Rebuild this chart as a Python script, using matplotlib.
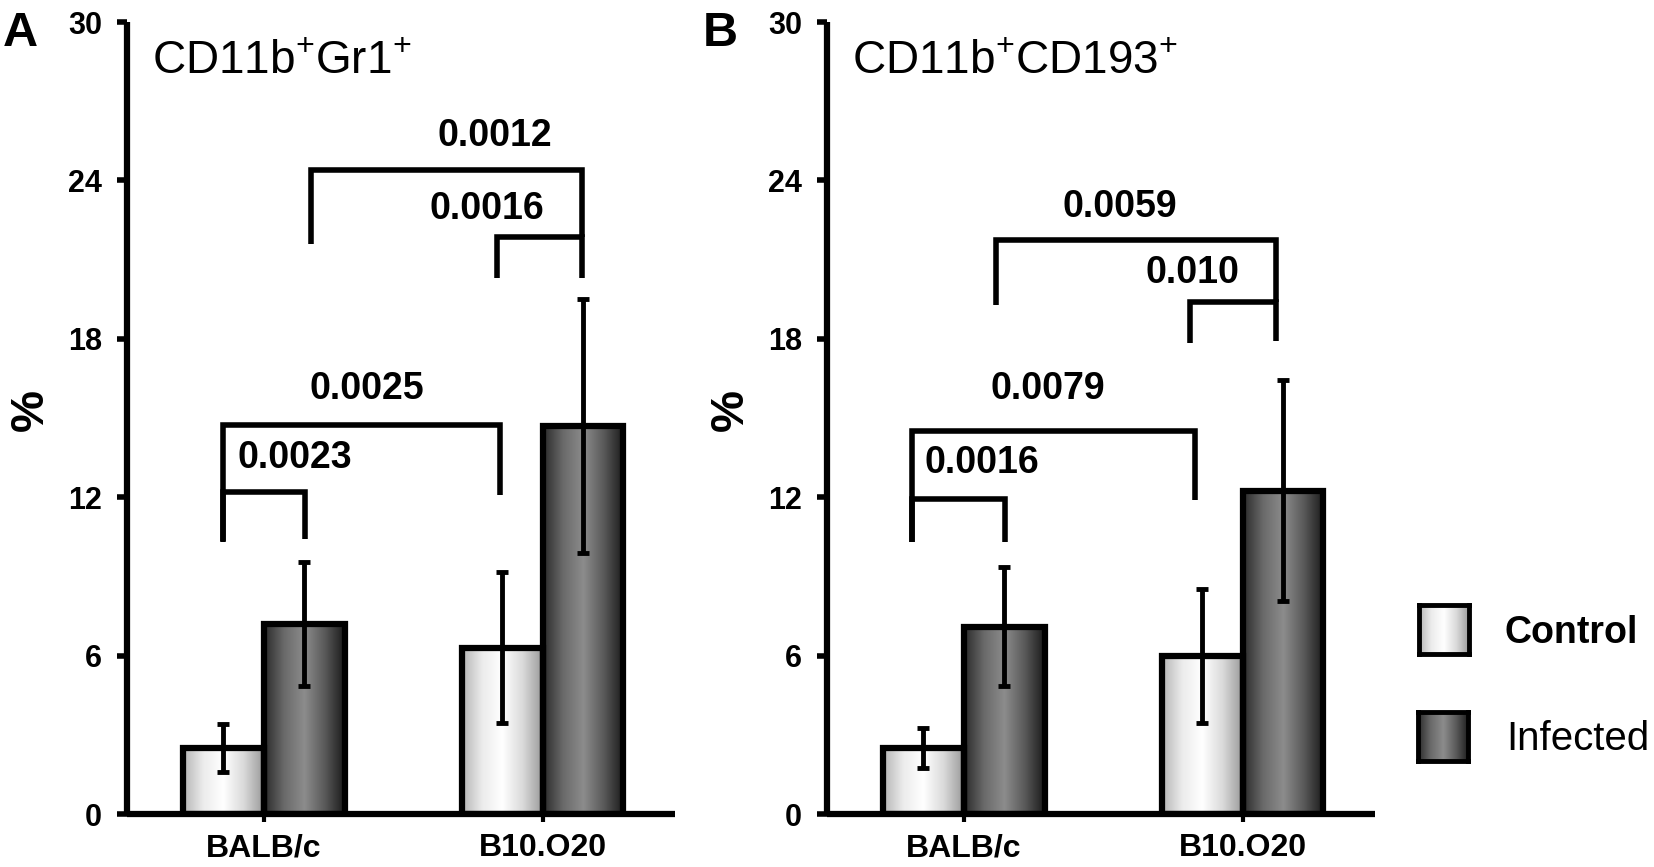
import numpy as np
import matplotlib.pyplot as plt
from matplotlib.colors import LinearSegmentedColormap

plt.rcParams['font.family'] = ['Liberation Sans', 'DejaVu Sans']
plt.rcParams['mathtext.fontset'] = 'custom'
plt.rcParams['mathtext.rm'] = 'Liberation Sans'
plt.rcParams['mathtext.it'] = 'Liberation Sans:italic'
plt.rcParams['mathtext.bf'] = 'Liberation Sans:bold'

# data
strains = ['BALB/c', 'B10.O20']
groups = ['Control', 'Infected']
titles = [r'CD11b$^{+}$Gr1$^{+}$', r'CD11b$^{+}$CD193$^{+}$']
letters = ['A', 'B']

a_control = [2.5, 6.3]
a_control_err = [0.9, 2.85]
a_infected = [7.2, 14.7]
a_infected_err = [2.35, 4.8]

b_control = [2.5, 6.0]
b_control_err = [0.76, 2.54]
b_infected = [7.1, 12.25]
b_infected_err = [2.26, 4.2]

a_pvals = ['0.0023', '0.0025', '0.0016', '0.0012']
b_pvals = ['0.0016', '0.0079', '0.010', '0.0059']

# bracket geometry: left x, right x, top y, left foot, right foot
a_brackets = [(-0.147, 0.147, 12.2, 10.35, 10.4),
              (-0.147, 0.846, 14.73, 10.3, 12.08),
              (0.835, 1.143, 21.86, 20.3, 20.3),
              (0.168, 1.143, 24.4, 21.6, 21.86)]
a_ptext = [(0.11, 13.5), (0.37, 16.1), (0.80, 22.9), (0.83, 25.7)]
b_brackets = [(-0.185, 0.147, 11.94, 10.29, 10.32),
              (-0.185, 0.83, 14.49, 10.29, 11.88),
              (0.81, 1.12, 19.4, 17.83, 17.9),
              (0.115, 1.12, 21.74, 19.28, 19.4)]
b_ptext = [(0.065, 13.28), (0.30, 16.1), (0.82, 20.5), (0.56, 23.0)]

cmap_ctrl = LinearSegmentedColormap.from_list(
    'ctrl', ['#b4b4b4', '#ececec', '#ffffff', '#dadada', '#9a9a9a'])
cmap_inf = LinearSegmentedColormap.from_list(
    'inf', ['#2a2a2a', '#6a6a6a', '#8c8c8c', '#5a5a5a', '#1a1a1a'])

W, H = 1654, 867
fig = plt.figure(figsize=(W / 100, H / 100), dpi=100)

grad = np.linspace(0, 1, 256).reshape(1, -1)


def gradient_bars(ax, bars, cmap):
    for p in bars:
        x0, y0 = p.get_x(), p.get_y()
        w, h = p.get_width(), p.get_height()
        im = ax.imshow(grad, cmap=cmap, extent=[x0, x0 + w, y0, y0 + h],
                       aspect='auto', interpolation='bicubic', zorder=1)
        im.set_clip_path(p)


panels = [
    (a_control, a_control_err, a_infected, a_infected_err, a_pvals, a_brackets, a_ptext),
    (b_control, b_control_err, b_infected, b_infected_err, b_pvals, b_brackets, b_ptext),
]
lefts = [127, 827]
bw = 0.29
x = np.arange(len(strains))

for i, (ctrl, ctrl_e, inf, inf_e, pv, brk, ptx) in enumerate(panels):
    ax = fig.add_axes([lefts[i] / W, (H - 814) / H, 548 / W, 792 / H])
    b1 = ax.bar(x - bw / 2, ctrl, bw, facecolor='none', edgecolor='black',
                linewidth=4.5, joinstyle='miter', zorder=2)
    b2 = ax.bar(x + bw / 2, inf, bw, facecolor='none', edgecolor='black',
                linewidth=4.5, joinstyle='miter', zorder=2)
    gradient_bars(ax, b1, cmap_ctrl)
    gradient_bars(ax, b2, cmap_inf)
    ax.errorbar(x - bw / 2, ctrl, yerr=ctrl_e, fmt='none', ecolor='black',
                elinewidth=3.5, capsize=4, capthick=3.5, zorder=4)
    ax.errorbar(x + bw / 2, inf, yerr=inf_e, fmt='none', ecolor='black',
                elinewidth=3.5, capsize=4, capthick=3.5, zorder=4)

    for (x1, x2, y, f1, f2), (tx, ty), label in zip(brk, ptx, pv):
        ax.plot([x1, x1, x2, x2], [f1, y, y, f2], color='black', lw=4,
                solid_joinstyle='miter', solid_capstyle='butt', zorder=3)
        ax.text(tx, ty, label, ha='center', va='center', fontsize=27,
                fontweight='bold')

    ax.set_xlim(-0.49, 1.475)
    ax.set_ylim(0, 30)
    ax.set_yticks(np.arange(0, 31, 6))
    ax.set_xticks(x)
    ax.set_xticklabels(strains, fontsize=23, fontweight='bold')
    for t in ax.get_yticklabels():
        t.set_fontsize(22)
        t.set_fontweight('bold')
    ax.tick_params(axis='y', direction='out', length=7, width=4, pad=11)
    ax.tick_params(axis='x', direction='out', length=6, width=3, pad=8)
    for s in ['top', 'right']:
        ax.spines[s].set_visible(False)
    for s in ['left', 'bottom']:
        ax.spines[s].set_linewidth(4.5)
        ax.spines[s].set_capstyle('butt')
    ax.set_ylabel('%', fontsize=34, fontweight='bold')
    ax.yaxis.set_label_coords(-0.135, 0.51)
    ax.text(0.045, 0.934, titles[i], transform=ax.transAxes, fontsize=33,
            va='baseline', ha='left')
    fig.text((lefts[i] - 124) / W, 1 - 46 / H, letters[i], fontsize=35,
             fontweight='bold', va='baseline', ha='left')

# legend
legend_boxes = [(1419, 605), (1418, 712)]
legend_text_pos = [(1504, 643), (1506, 750)]
legend_weight = ['bold', 'normal']
for (bx, by), (lx, ly), name, cm, wt in zip(legend_boxes, legend_text_pos,
                                            groups, [cmap_ctrl, cmap_inf],
                                            legend_weight):
    lax = fig.add_axes([bx / W, (H - by - 49) / H, 50 / W, 49 / H])
    lax.imshow(grad, cmap=cm, aspect='auto', interpolation='bicubic')
    lax.set_xticks([])
    lax.set_yticks([])
    for s in lax.spines.values():
        s.set_linewidth(3.5)
    fig.text(lx / W, 1 - ly / H, name, fontsize=27 if wt == 'bold' else 29,
             fontweight=wt, va='baseline', ha='left')

fig.savefig('out.png', dpi=100)
